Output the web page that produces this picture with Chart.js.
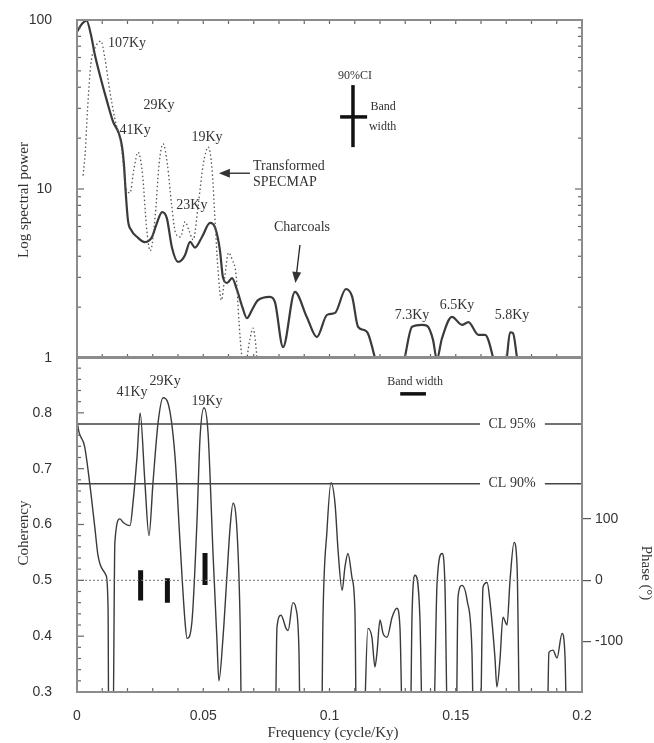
<!DOCTYPE html>
<html lang="en">
<head>
<meta charset="UTF-8">
<title>Spectral power and coherency</title>
<style>
    body { margin: 0; background: #ffffff; }
    #wrap { position: relative; width: 654px; height: 743px; }
    canvas { position: absolute; left: 0; }
    #top-chart { top: 0; }
    #bottom-chart { top: 340px; }
</style>
</head>
<body>
<div id="wrap">
    <canvas id="top-chart" width="654" height="365"></canvas>
    <canvas id="bottom-chart" width="654" height="403"></canvas>
</div>
<script src="https://cdn.jsdelivr.net/npm/chart.js"></script>
<script>
    // Top panel: charcoal spectrum (solid) and transformed SPECMAP (dotted)
    const charcoalFreq = [0, 0.002, 0.0038, 0.0055, 0.0071, 0.0091, 0.0119, 0.0143, 0.0165, 0.0178, 0.0186, 0.0193, 0.0202, 0.0215, 0.0238, 0.0269, 0.0285, 0.0297, 0.0315, 0.0337, 0.0356, 0.0376, 0.040, 0.0415, 0.0428, 0.0448, 0.0467, 0.0495, 0.0527, 0.0547, 0.0566, 0.0578, 0.0594, 0.0614, 0.0634, 0.0655, 0.0673, 0.0695, 0.0717, 0.0764, 0.0784, 0.0816, 0.0863, 0.091, 0.095, 0.099, 0.1022, 0.1065, 0.109, 0.1113, 0.114, 0.1152, 0.118, 0.1195, 0.1285, 0.1298, 0.1327, 0.1366, 0.1386, 0.141, 0.1425, 0.1445, 0.1485, 0.1525, 0.155, 0.159, 0.1616, 0.1648, 0.166, 0.169, 0.1702, 0.1715, 0.1727, 0.1743, 0.1755];
    const charcoalPower = [85, 95, 99, 82, 62, 47, 33, 25, 21.5, 18, 14, 9.5, 6.5, 5.7, 5.2, 4.85, 4.95, 5.2, 6.2, 7.3, 6.7, 4.5, 3.7, 3.8, 4.07, 4.86, 4.5, 5.2, 6.3, 5.9, 4.35, 3.0, 2.78, 2.97, 2.52, 2.0, 1.72, 1.95, 2.2, 2.3, 2.14, 1.16, 2.46, 1.75, 1.33, 1.8, 1.85, 2.56, 2.3, 1.53, 1.46, 1.4, 1.0, 0.8, 0.8, 1.0, 1.53, 1.57, 1.55, 1.28, 0.98, 1.3, 1.75, 1.57, 1.63, 1.37, 1.37, 1.0, 0.8, 0.8, 1.0, 1.42, 1.4, 1.0, 0.8];

    const specmapFreq = [0.0024, 0.0032, 0.0042, 0.0055, 0.0075, 0.0095, 0.011, 0.013, 0.015, 0.0175, 0.0195, 0.021, 0.0225, 0.0242, 0.026, 0.0275, 0.029, 0.031, 0.0325, 0.0341, 0.0358, 0.0375, 0.039, 0.041, 0.0428, 0.0445, 0.046, 0.048, 0.05, 0.052, 0.0535, 0.0548, 0.0558, 0.0572, 0.0585, 0.06, 0.0615, 0.063, 0.0642, 0.0652, 0.0665, 0.0685, 0.0697, 0.0708, 0.0715];
    const specmapPower = [12, 16, 30, 55, 70, 75, 60, 38, 26, 18, 10, 9.5, 13, 16.5, 12, 6, 4.3, 7, 14, 18.5, 14, 8, 5.5, 5.2, 6.4, 5.6, 5.0, 8, 14, 17.7, 13, 6, 3.4, 2.2, 3.0, 4.2, 3.8, 3.1, 1.6, 1.05, 0.9, 1.3, 1.5, 1.2, 0.9];

    // 90% CI / band width cross
    const ciFreq = [0.1042, 0.1093, 0.1149];
    const ciPower = [17.7, 26.7, 41.2];

    // Bottom panel: coherency (values under 0.3 fall off the axis)
    const cohFreq = [0, 0.0008, 0.003, 0.005, 0.0071, 0.0083, 0.0103, 0.0115, 0.0123, 0.0126, 0.0142, 0.015, 0.017, 0.0182, 0.021, 0.0222, 0.0238, 0.025, 0.0269, 0.0285, 0.0301, 0.0321, 0.0341, 0.036, 0.0388, 0.0408, 0.0428, 0.0436, 0.0455, 0.0475, 0.0487, 0.0503, 0.0519, 0.0539, 0.0554, 0.0562, 0.0578, 0.0594, 0.0606, 0.0618, 0.0634, 0.0646, 0.0653, 0.0784, 0.0792, 0.0808, 0.0828, 0.0836, 0.0855, 0.0867, 0.0879, 0.0885, 0.0968, 0.0974, 0.099, 0.1006, 0.1022, 0.1034, 0.105, 0.1061, 0.1073, 0.1089, 0.1101, 0.1107, 0.1133, 0.1152, 0.1168, 0.118, 0.1188, 0.12, 0.1212, 0.1228, 0.1248, 0.1267, 0.1279, 0.1291, 0.1319, 0.1327, 0.1339, 0.1358, 0.137, 0.141, 0.1426, 0.1446, 0.1457, 0.1469, 0.1501, 0.1509, 0.1525, 0.1545, 0.1564, 0.1572, 0.1596, 0.1608, 0.1624, 0.1636, 0.1655, 0.1663, 0.1675, 0.1687, 0.1703, 0.1715, 0.1731, 0.1743, 0.1755, 0.1861, 0.1869, 0.1885, 0.1901, 0.1921, 0.1933, 0.1941, 0.2];
    const coherency = [0.785, 0.765, 0.74, 0.675, 0.593, 0.545, 0.518, 0.509, 0.45, 0.2, 0.2, 0.568, 0.61, 0.604, 0.598, 0.64, 0.723, 0.80, 0.675, 0.58, 0.675, 0.782, 0.827, 0.818, 0.723, 0.568, 0.425, 0.396, 0.425, 0.604, 0.753, 0.809, 0.764, 0.545, 0.396, 0.32, 0.396, 0.509, 0.593, 0.638, 0.586, 0.425, 0.2, 0.2, 0.416, 0.4375, 0.414, 0.41, 0.46, 0.45, 0.375, 0.2, 0.2, 0.429, 0.589, 0.675, 0.637, 0.553, 0.482, 0.523, 0.548, 0.505, 0.44, 0.2, 0.2, 0.414, 0.398, 0.345, 0.37, 0.429, 0.405, 0.398, 0.434, 0.45, 0.416, 0.2, 0.2, 0.44, 0.509, 0.434, 0.2, 0.2, 0.495, 0.548, 0.495, 0.2, 0.2, 0.47, 0.491, 0.464, 0.375, 0.2, 0.2, 0.488, 0.496, 0.46, 0.363, 0.309, 0.357, 0.434, 0.42, 0.5, 0.568, 0.523, 0.2, 0.2, 0.371, 0.375, 0.361, 0.405, 0.36, 0.2, 0.2];

    // Phase (degrees) with error range at the three orbital peaks
    const phaseFreq = [0.0252, 0.0358, 0.0507];
    const phaseLow = [-33, -37, -8];
    const phaseHigh = [16, 3, 44];

    const clLevels = [0.78, 0.673];
    const bandFreq = [0.128, 0.1382];
    const bandLevel = 0.834;

    const logTicks = [1, 10, 100];
    const cohTicks = [0.3, 0.4, 0.5, 0.6, 0.7, 0.8];
    const freqTicks = [0, 0.05, 0.1, 0.15, 0.2];
    const phaseTicks = [-100, 0, 100];

    const serif = '"Liberation Serif", "DejaVu Serif", serif';
    const sans = '"Liberation Sans", Arial, sans-serif';
    const ink = '#333333';

    const pts = (xs, ys) => xs.map((x, i) => ({ x: x, y: ys[i] }));

    // fixed axis sizes, no extra label padding pushed into the layout
    function fixWidth(w) {
        return s => { s.width = w; s.paddingTop = 0; s.paddingBottom = 0; s.paddingLeft = 0; s.paddingRight = 0; };
    }
    function fixHeight(h) {
        return s => { s.height = h; s.paddingTop = 0; s.paddingBottom = 0; s.paddingLeft = 0; s.paddingRight = 0; };
    }

    function arrow(ctx, x1, y1, x2, y2) {
        const a = Math.atan2(y2 - y1, x2 - x1);
        const c = Math.cos(a), s = Math.sin(a);
        ctx.beginPath();
        ctx.moveTo(x1, y1);
        ctx.lineTo(x2 - 8 * c, y2 - 8 * s);
        ctx.stroke();
        ctx.beginPath();
        ctx.moveTo(x2, y2);
        ctx.lineTo(x2 - 11 * c + 4.5 * s, y2 - 11 * s - 4.5 * c);
        ctx.lineTo(x2 - 11 * c - 4.5 * s, y2 - 11 * s + 4.5 * c);
        ctx.closePath();
        ctx.fill();
    }

    // frame + inward minor ticks
    const framePlugin = {
        id: 'frame',
        afterDatasetsDraw(chart, args, opts) {
            const { ctx, chartArea: a } = chart;
            const xs = chart.scales.x, ys = chart.scales.y;
            ctx.save();
            ctx.strokeStyle = '#666';
            ctx.lineWidth = 1.2;
            const tick = (x1, y1, x2, y2) => { ctx.beginPath(); ctx.moveTo(x1, y1); ctx.lineTo(x2, y2); ctx.stroke(); };
            (opts.xMinor || []).forEach(v => {
                const p = xs.getPixelForValue(v);
                if (opts.topEdge) tick(p, a.top, p, a.top + 4);
                tick(p, a.bottom, p, a.bottom - 4);
            });
            (opts.yMinor || []).forEach(m => {
                const p = ys.getPixelForValue(m.v);
                tick(a.left, p, a.left + m.len, p);
                if (opts.rightEdge) tick(a.right, p, a.right - m.len, p);
            });
            ctx.strokeStyle = '#8c8c8c';
            ctx.lineWidth = 2;
            ctx.strokeRect(a.left, a.top, a.right - a.left, a.bottom - a.top);
            ctx.restore();
        }
    };

    // text notes, arrows and axis titles
    const notesPlugin = {
        id: 'notes',
        afterDatasetsDraw(chart, args, opts) {
            const { ctx } = chart;
            const xs = chart.scales.x, ys = chart.scales.y;
            ctx.save();
            ctx.fillStyle = ink;
            ctx.strokeStyle = '#222';
            ctx.lineWidth = 1.3;
            ctx.textBaseline = 'middle';
            (opts.items || []).forEach(n => {
                ctx.font = (n.size || 14) + 'px ' + serif;
                ctx.textAlign = n.align || 'center';
                ctx.fillText(n.t, xs.getPixelForValue(n.x), ys.getPixelForValue(n.y));
            });
            (opts.arrows || []).forEach(r => {
                arrow(ctx, xs.getPixelForValue(r[0]), ys.getPixelForValue(r[1]),
                    xs.getPixelForValue(r[2]), ys.getPixelForValue(r[3]));
            });
            (opts.titles || []).forEach(t => {
                ctx.save();
                ctx.font = '15px ' + serif;
                ctx.textAlign = 'center';
                ctx.translate(t.px, t.py);
                ctx.rotate(t.rot || 0);
                ctx.fillText(t.t, 0, 0);
                ctx.restore();
            });
            ctx.restore();
        }
    };

    const xMinor = [];
    for (let i = 1; i < 20; i++) xMinor.push(i / 100);
    const logMinor = [];
    [1, 10].forEach(d => { for (let k = 2; k <= 9; k++) logMinor.push({ v: k * d, len: 4 }); });
    logMinor.push({ v: 10, len: 7 });
    const cohMinor = [];
    for (let k = 16; k <= 44; k++) cohMinor.push({ v: k / 50, len: k % 5 === 0 ? 7 : 4 });

    const tickFont = { family: sans, size: 14 };

    new Chart(document.getElementById('top-chart'), {
        type: 'line',
        data: {
            datasets: [
                {
                    data: pts(specmapFreq, specmapPower),
                    borderColor: '#555', borderWidth: 1.3, borderDash: [1.5, 2.5],
                    pointRadius: 0, cubicInterpolationMode: 'monotone'
                },
                {
                    data: pts(charcoalFreq, charcoalPower),
                    borderColor: '#3a3a3a', borderWidth: 2.2,
                    pointRadius: 0, cubicInterpolationMode: 'monotone'
                },
                {
                    data: [{ x: ciFreq[1], y: ciPower[0] }, { x: ciFreq[1], y: ciPower[2] }],
                    borderColor: '#111', borderWidth: 3.5, pointRadius: 0
                },
                {
                    data: [{ x: ciFreq[0], y: ciPower[1] }, { x: ciFreq[2], y: ciPower[1] }],
                    borderColor: '#111', borderWidth: 3.5, pointRadius: 0
                }
            ]
        },
        options: {
            responsive: false,
            animation: false,
            devicePixelRatio: 1,
            layout: { padding: { top: 20, right: 72, bottom: 7, left: 0 } },
            plugins: {
                legend: { display: false },
                tooltip: { enabled: false },
                frame: { xMinor: xMinor, yMinor: logMinor, topEdge: true, rightEdge: true },
                notes: {
                    items: [
                        { t: '107Ky', x: 0.0198, y: 73 },
                        { t: '29Ky', x: 0.0325, y: 31.3 },
                        { t: '41Ky', x: 0.023, y: 22.3 },
                        { t: '19Ky', x: 0.0515, y: 20.3 },
                        { t: '23Ky', x: 0.0455, y: 8.05 },
                        { t: 'Transformed', x: 0.0697, y: 13.7, align: 'left' },
                        { t: 'SPECMAP', x: 0.0697, y: 11.0, align: 'left' },
                        { t: 'Charcoals', x: 0.0891, y: 5.96 },
                        { t: '7.3Ky', x: 0.1327, y: 1.8 },
                        { t: '6.5Ky', x: 0.1505, y: 2.06 },
                        { t: '5.8Ky', x: 0.1723, y: 1.8 },
                        { t: '90%CI', x: 0.1101, y: 47, size: 12 },
                        { t: 'Band', x: 0.1162, y: 30.5, align: 'left', size: 12 },
                        { t: 'width', x: 0.1156, y: 23.3, align: 'left', size: 12 }
                    ],
                    arrows: [
                        [0.0685, 12.4, 0.0562, 12.4],
                        [0.0883, 4.66, 0.0865, 2.78]
                    ],
                    titles: [
                        { t: 'Log spectral power', px: 24, py: 200, rot: -Math.PI / 2 }
                    ]
                }
            },
            scales: {
                x: { type: 'linear', min: 0, max: 0.2, display: false },
                y: {
                    type: 'logarithmic', min: 1, max: 100, position: 'left',
                    grid: { display: false }, border: { display: false },
                    afterBuildTicks: s => { s.ticks = logTicks.map(v => ({ value: v })); },
                    afterFit: fixWidth(77),
                    ticks: { padding: 17, color: ink, font: tickFont, autoSkip: false, callback: v => String(v) }
                }
            }
        },
        plugins: [framePlugin, notesPlugin]
    });

    const clData = [];
    clLevels.forEach(l => {
        clData.push({ x: 0, y: l }, { x: 0.1596, y: l }, { x: 0.1596, y: null }, { x: 0.1853, y: l }, { x: 0.2, y: l }, { x: 0.2, y: null });
    });
    const phaseData = [];
    phaseFreq.forEach((f, i) => {
        phaseData.push({ x: f, y: phaseLow[i] }, { x: f, y: phaseHigh[i] }, { x: f, y: null });
    });

    new Chart(document.getElementById('bottom-chart'), {
        type: 'line',
        data: {
            datasets: [
                {
                    data: [{ x: 0, y: 0.5 }, { x: 0.2, y: 0.5 }],
                    borderColor: '#777', borderWidth: 1, borderDash: [2, 2], pointRadius: 0
                },
                {
                    data: clData,
                    borderColor: '#444', borderWidth: 1.6, pointRadius: 0, spanGaps: false
                },
                {
                    data: pts(cohFreq, coherency),
                    borderColor: '#3a3a3a', borderWidth: 1.4,
                    pointRadius: 0, cubicInterpolationMode: 'monotone'
                },
                {
                    data: phaseData, yAxisID: 'phase',
                    borderColor: '#111', borderWidth: 5, pointRadius: 0, spanGaps: false
                },
                {
                    data: [{ x: bandFreq[0], y: bandLevel }, { x: bandFreq[1], y: bandLevel }],
                    borderColor: '#111', borderWidth: 3.5, pointRadius: 0
                }
            ]
        },
        options: {
            responsive: false,
            animation: false,
            devicePixelRatio: 1,
            layout: { padding: { top: 17, right: 0, bottom: 0, left: 0 } },
            plugins: {
                legend: { display: false },
                tooltip: { enabled: false },
                frame: { xMinor: xMinor, yMinor: cohMinor, topEdge: false, rightEdge: false },
                notes: {
                    items: [
                        { t: '41Ky', x: 0.0218, y: 0.836 },
                        { t: '29Ky', x: 0.0349, y: 0.857 },
                        { t: '19Ky', x: 0.0515, y: 0.821 },
                        { t: 'Band width', x: 0.1339, y: 0.856, size: 12 },
                        { t: 'CL 95%', x: 0.1723, y: clLevels[0] },
                        { t: 'CL 90%', x: 0.1723, y: clLevels[1] }
                    ],
                    titles: [
                        { t: 'Coherency', px: 24, py: 193, rot: -Math.PI / 2 },
                        { t: 'Frequency (cycle/Ky)', px: 333, py: 393 },
                        { t: 'Phase (°)', px: 646, py: 233, rot: Math.PI / 2 }
                    ]
                }
            },
            scales: {
                x: {
                    type: 'linear', min: 0, max: 0.2, position: 'bottom',
                    grid: { display: false }, border: { display: false },
                    afterBuildTicks: s => { s.ticks = freqTicks.map(v => ({ value: v })); },
                    afterFit: fixHeight(51),
                    ticks: { padding: 8, maxRotation: 0, autoSkip: false, color: ink, font: tickFont, callback: v => String(v) }
                },
                y: {
                    type: 'linear', min: 0.3, max: 0.9, position: 'left',
                    grid: { display: false }, border: { display: false },
                    afterBuildTicks: s => { s.ticks = cohTicks.map(v => ({ value: v })); },
                    afterFit: fixWidth(77),
                    ticks: { padding: 17, color: ink, font: tickFont, autoSkip: false, callback: v => v.toFixed(1) }
                },
                phase: {
                    type: 'linear', min: -182, max: 363, position: 'right',
                    grid: { display: true, drawOnChartArea: false, tickLength: 9, color: '#555', lineWidth: 1.2 },
                    border: { display: false },
                    afterBuildTicks: s => { s.ticks = phaseTicks.map(v => ({ value: v })); },
                    afterFit: fixWidth(72),
                    ticks: { padding: 4, color: ink, font: tickFont, autoSkip: false, callback: v => String(v) }
                }
            }
        },
        plugins: [framePlugin, notesPlugin]
    });
</script>
</body>
</html>
